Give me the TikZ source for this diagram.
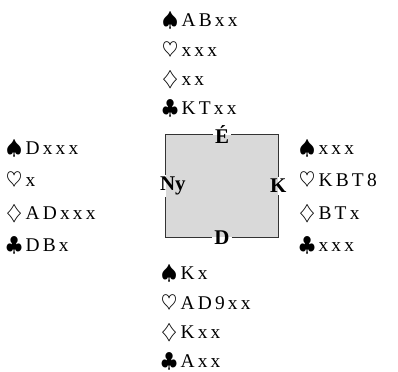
\documentclass[tikz,border=0pt]{standalone}
\usepackage{fontspec}
\setmainfont{Liberation Serif}
\usetikzlibrary{positioning}

\begin{document}
\begin{tikzpicture}[x=1bp, y=-1bp,
  every node/.style={inner sep=0pt},
  hand/.style={align=left, anchor=west, font=\fontsize{19.5}{#1}\selectfont},
  hand/.default=30,
  seat/.style={font=\fontsize{21}{21}\selectfont\bfseries, inner sep=2bp},
  table/.style={fill=black!15, minimum width=112bp, minimum height=102bp},
  rim/.style={draw=black!80, line width=1.2pt}
]
  \useasboundingbox (0,0) rectangle (398,372);

  % the table with the four seats
  \node[table] (tbl) at (222,186) {};
  \node[seat] (n) at (tbl.north) {É};
  \node[seat] (s) at (tbl.south) {D};
  \node[seat, anchor=west] (w) at ([xshift=-8bp]tbl.west) {Ny};
  \node[seat] (e) at (tbl.east) {K};
  \draw[rim] (n.west) -| (w.north -| tbl.west);
  \draw[rim] (w.south -| tbl.west) |- (s.west);
  \draw[rim] (s.east) -| (e.south);
  \draw[rim] (e.north) |- (n.east);

  % the hands
  \node[hand=29.5] (north) at (162,65)
       {$\spadesuit$\,A\,B\,x\,x\\$\heartsuit$\,x\,x\,x\\$\diamondsuit$\,x\,x\\$\clubsuit$\,K\,T\,x\,x};
  \node[hand=32.5] (west) at (6,197)
       {$\spadesuit$\,D\,x\,x\,x\\$\heartsuit$\,x\\$\diamondsuit$\,A\,D\,x\,x\,x\\$\clubsuit$\,D\,B\,x};
  \node[hand=32.5] (east) at (299,197)
       {$\spadesuit$\,x\,x\,x\\$\heartsuit$\,K\,B\,T\,8\\$\diamondsuit$\,B\,T\,x\\$\clubsuit$\,x\,x\,x};
  \node[hand=29.5] (south) at (161,318)
       {$\spadesuit$\,K\,x\\$\heartsuit$\,A\,D\,9\,x\,x\\$\diamondsuit$\,K\,x\,x\\$\clubsuit$\,A\,x\,x};
\end{tikzpicture}
\end{document}
